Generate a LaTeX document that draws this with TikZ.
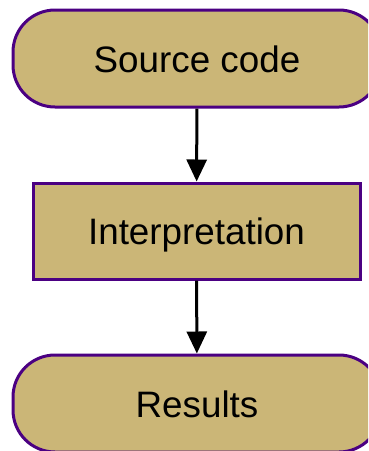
\documentclass[tikz,border=0pt]{standalone}
\usepackage{fontspec}
\setmainfont{Liberation Sans}
\usepackage{tikz}
\usetikzlibrary{arrows.meta}
\definecolor{sand}{HTML}{CBB677}
\definecolor{ink}{HTML}{4B0082}
\tikzset{
    terminal/.style={draw=ink, fill=sand, line width=3pt, rounded corners=42pt, minimum width=368pt, minimum height=97pt, inner sep=0pt, text height=27.5pt, text depth=0pt},
    process/.style={draw=ink, fill=sand, line width=3pt, minimum width=327pt, minimum height=96pt, inner sep=0pt, text height=27.5pt, text depth=0pt},
    flow/.style={draw=black, line width=3pt, -{Triangle[length=22pt,width=20pt]}}
}

\begin{document}
\begin{tikzpicture}[x=1pt, y=-1pt, font=\fontsize{36.8}{44}\selectfont]
    \useasboundingbox (0,0) rectangle (368,451);
    \clip (0,0) rectangle (368,451);
    \node[terminal] (src) at (197,58.5) {Source code};
    \node[process] (interp) at (196.5,231) {Interpretation};
    \node[terminal] (res) at (197,403.5) {Results};

    \draw[flow] (src) -- (interp);
    \draw[flow] (interp) -- (res);
\end{tikzpicture}
\end{document}
